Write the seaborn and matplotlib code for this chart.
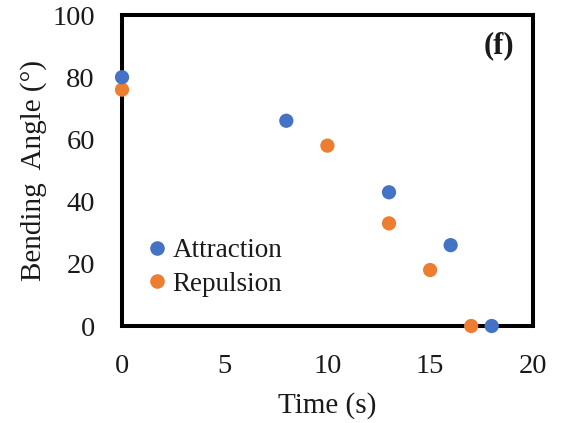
import matplotlib
matplotlib.use("Agg")
import matplotlib.pyplot as plt
from matplotlib.lines import Line2D
import seaborn as sns
import pandas as pd

attr_time = [0, 8, 13, 16, 18]
attr_angle = [80, 66, 43, 26, 0]
rep_time = [0, 10, 13, 15, 17]
rep_angle = [76, 58, 33, 18, 0]
series_names = ["Attraction", "Repulsion"]
colors = {"Attraction": "#4472C4", "Repulsion": "#ED7D31"}
x_ticks = [0, 5, 10, 15, 20]
y_ticks = [0, 20, 40, 60, 80, 100]

sns.set_style("white")
plt.rcParams["font.family"] = ["Liberation Serif", "DejaVu Serif"]

df = pd.concat([
    pd.DataFrame({"Time": rep_time, "Angle": rep_angle, "Series": "Repulsion"}),
    pd.DataFrame({"Time": attr_time, "Angle": attr_angle, "Series": "Attraction"}),
], ignore_index=True)

fig = plt.figure(figsize=(5.68, 4.23), dpi=100)
ax = fig.add_axes([0.2148, 0.2293, 0.7232, 0.7352])

sns.scatterplot(data=df, x="Time", y="Angle", hue="Series", hue_order=series_names,
                palette=colors, s=105, edgecolor="none", linewidth=0, ax=ax,
                clip_on=False, zorder=5, legend=False)

ax.set_xlim(0, 20)
ax.set_ylim(0, 100)
ax.set_xticks(x_ticks)
ax.set_yticks(y_ticks)
ax.tick_params(axis="both", direction="inout", length=11, width=2.8, color="black",
               labelsize=20.5, labelcolor="#1a1a1a")
ax.tick_params(axis="x", pad=15)
ax.tick_params(axis="y", pad=14)
for sp in ax.spines.values():
    sp.set_visible(True)
    sp.set_linewidth(2.9)
    sp.set_color("black")

ax.set_xlabel("Time (s)", fontsize=21, color="#1a1a1a", labelpad=9)
ax.set_ylabel("Bending  Angle (°)", fontsize=21, color="#1a1a1a", labelpad=4)

ax.text(0.955, 0.9, "(f)", transform=ax.transAxes, ha="right", va="center",
        fontsize=22, fontweight="bold", color="#1a1a1a")

handles = [Line2D([0], [0], marker="o", linestyle="none", markersize=10.5,
                  markerfacecolor=colors[n], markeredgecolor="none") for n in series_names]
leg = ax.legend(handles, series_names, loc="lower left", bbox_to_anchor=(0.04, 0.06),
                frameon=False, fontsize=19.5, handlelength=0.6, handletextpad=0.25,
                labelspacing=0.3, borderaxespad=0)
for t in leg.get_texts():
    t.set_color("#1a1a1a")

fig.savefig("out.png", dpi=100)
